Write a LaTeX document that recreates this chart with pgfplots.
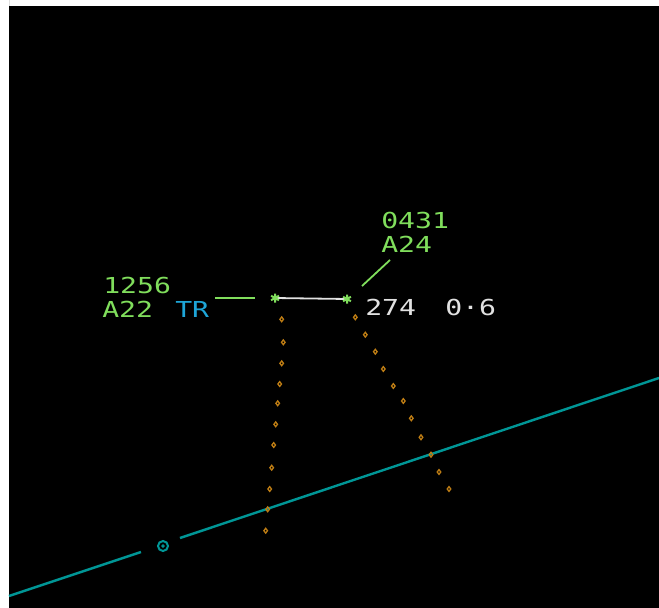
\documentclass[border=0pt]{standalone}
\usepackage{pgfplots}
\pgfplotsset{compat=1.18}
\usepackage{fontspec}
\newfontfamily\radarfont{DejaVu Sans Mono}
\definecolor{scope}{RGB}{0,0,0}
\definecolor{tag}{RGB}{128,222,92}
\definecolor{tagblue}{RGB}{30,165,215}
\definecolor{plain}{RGB}{225,225,225}
\definecolor{trail}{RGB}{190,125,20}
\definecolor{route}{RGB}{0,150,150}

\tikzset{lbl/.style={anchor=base west, inner sep=0pt, xscale=1.28,
  font=\radarfont\fontsize{22}{22}\selectfont}}

\begin{document}
\begin{tikzpicture}
\begin{axis}[
    width=659pt, height=608pt, scale only axis,
    xmin=0, xmax=659, ymin=0, ymax=608,
    y dir=reverse,
    hide axis,
    clip=true,
]
% screen
\addplot[fill=white, draw=none] coordinates {(0,0) (659,0) (659,608) (0,608)} \closedcycle;
\addplot[fill=scope, draw=none] coordinates {(9,6) (659,6) (659,608) (9,608)} \closedcycle;

% route line, broken round the fix
\addplot[route, line width=2.4pt] coordinates {(9,596) (141,552)};
\addplot[route, line width=2.4pt] coordinates {(180,538) (659,378)};
\addplot[route, line width=2pt, only marks, mark=o, mark size=5pt] coordinates {(163,546)};
\addplot[route, only marks, mark=*, mark size=1.5pt] coordinates {(163,546)};

% history trails
\addplot[trail, only marks, mark=diamond, mark size=2.4pt, line width=1.3pt] coordinates {
(281.7,319.3) (283.3,342.3) (281.7,363.3) (279.7,384) (277.7,403.3) (275.7,424.3)
(273.7,445) (271.7,467.7) (269.7,489) (267.7,509.3) (265.7,530.7)};
\addplot[trail, only marks, mark=diamond, mark size=2.4pt, line width=1.3pt] coordinates {
(355.3,317.3) (365.3,334.7) (375.3,351.7) (383.3,369) (393.3,386) (403.3,401)
(411.3,418.3) (421,437.3) (431,454.7) (439,472) (449,489)};

% separation line and leaders
\addplot[plain, line width=1.8pt] coordinates {(275,298) (347,299)};
\addplot[tag, line width=1.8pt] coordinates {(215,298) (255,298)};
\addplot[tag, line width=1.8pt] coordinates {(362,286) (390,260)};

% targets
\addplot[tag, only marks, mark=asterisk, mark size=4.5pt, line width=2pt] coordinates {(275,298) (347,299)};

% labels
\node[lbl, text=tag] at (axis cs:103,293) {1256};
\node[lbl, text=tag] at (axis cs:102,317) {A22};
\node[lbl, text=tagblue] at (axis cs:175,317) {TR};
\node[lbl, text=tag] at (axis cs:381,228) {0431};
\node[lbl, text=tag] at (axis cs:381,252) {A24};
\node[lbl, text=plain] at (axis cs:365,315) {274};
\node[lbl, text=plain] at (axis cs:445,315) {0·6};
\end{axis}
\end{tikzpicture}
\end{document}
